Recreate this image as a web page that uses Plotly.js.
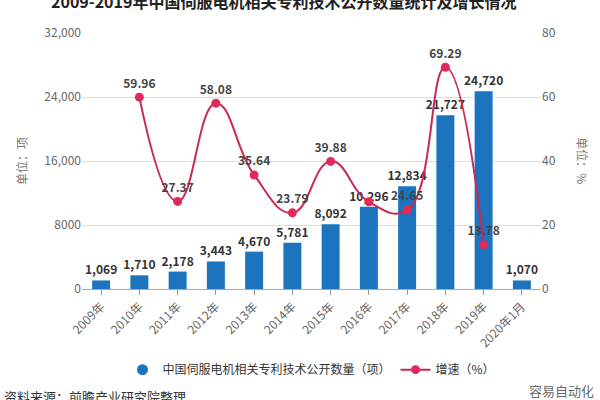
<!DOCTYPE html>
<html>
<head>
<meta charset="utf-8">
<script src="https://cdn.plot.ly/plotly-3.0.1.min.js"></script>
<style>html,body{margin:0;padding:0;background:#fff;}#chart{width:600px;height:400px;}</style>
</head>
<body>
<div id="chart"></div>
<script>
const categories = ["2009年","2010年","2011年","2012年","2013年","2014年","2015年","2016年","2017年","2018年","2019年","2020年1月"];
const patents = [1069, 1710, 2178, 3443, 4670, 5781, 8092, 10296, 12834, 21727, 24720, 1070];
const growthCats = ["2010年","2011年","2012年","2013年","2014年","2015年","2016年","2017年","2018年","2019年"];
const growth = [59.96, 27.37, 58.08, 35.64, 23.79, 39.88, 27.24, 24.65, 69.29, 13.78];
const growthLabels = ["59.96","27.37","58.08","35.64","23.79","39.88","","24.65","69.29","13.78"];
const leftTickVals = [0, 8000, 16000, 24000, 32000];
const leftTickText = ["0", "8000", "16,000", "24,000", "32,000"];
const rightTickVals = [0, 20, 40, 60, 80];

const FONT = "Noto Sans CJK SC, Noto Sans, sans-serif";
const BAR_COLOR = "#1b74bd";

const barTrace = {
  type: "bar",
  name: "中国伺服电机相关专利技术公开数量（项）",
  showlegend: false,
  x: categories,
  y: patents,
  width: 0.47,
  marker: {color: BAR_COLOR},
  text: patents.map(v => v.toLocaleString("en-US")),
  textposition: "outside",
  textangle: 0,
  constraintext: "none",
  textfont: {family: FONT, size: 12, color: "#333", weight: "bold"},
  cliponaxis: false,
  hoverinfo: "skip"
};

const barLegend = {
  type: "scatter",
  mode: "markers",
  name: "中国伺服电机相关专利技术公开数量（项）",
  x: [null], y: [null],
  marker: {color: BAR_COLOR, size: 11, symbol: "circle"},
  hoverinfo: "skip"
};

const lineTrace = {
  type: "scatter",
  mode: "lines+markers+text",
  name: "增速（%）",
  x: growthCats,
  y: growth,
  yaxis: "y2",
  line: {color: "#c92a52", width: 2, shape: "spline", smoothing: 1.3},
  marker: {color: "#e2295b", size: 9},
  text: growthLabels,
  textposition: "top center",
  textfont: {family: FONT, size: 12, color: "#444", weight: "bold"},
  cliponaxis: false,
  hoverinfo: "skip"
};

const layout = {
  width: 600, height: 400,
  margin: {l: 82, r: 59, t: 33, b: 111},
  paper_bgcolor: "#fff", plot_bgcolor: "#fff",
  font: {family: FONT, color: "#666", size: 12},
  showlegend: true,
  xaxis: {
    type: "category",
    categoryorder: "array", categoryarray: categories,
    tickangle: -45,
    tickfont: {family: FONT, size: 12, color: "#666"},
    ticks: "outside", ticklen: 5, tickcolor: "#999",
    showline: true, linecolor: "#aaa", linewidth: 1,
    showgrid: false, zeroline: false
  },
  yaxis: {
    range: [0, 32000],
    tickvals: leftTickVals, ticktext: leftTickText,
    tickfont: {family: FONT, size: 12, color: "#666"},
    showgrid: true, gridcolor: "#ddd", gridwidth: 1,
    zeroline: false, showline: false, ticks: "",
    title: {text: "单位：项", font: {family: FONT, size: 12, color: "#777"}, standoff: 14}
  },
  yaxis2: {
    overlaying: "y", side: "right",
    range: [0, 80],
    tickvals: rightTickVals,
    tickfont: {family: FONT, size: 12, color: "#666"},
    showgrid: false, zeroline: false, showline: false, ticks: ""
  },
  legend: {
    orientation: "h",
    x: 0.5, xanchor: "center",
    y: -0.315, yanchor: "middle",
    font: {family: FONT, size: 12, color: "#333"},
    itemwidth: 30,
    traceorder: "normal"
  },
  annotations: [
    {
      text: "<b>2009-2019年中国伺服电机相关专利技术公开数量统计及增长情况</b>",
      xref: "paper", yref: "paper",
      x: 0.44, y: 1.125, xanchor: "center", yanchor: "middle",
      showarrow: false,
      font: {family: FONT, size: 16, color: "#222"}
    },
    {
      text: "单位：%",
      xref: "paper", yref: "paper",
      x: 1.091, y: 0.5, xanchor: "center", yanchor: "middle",
      textangle: 90,
      showarrow: false,
      font: {family: FONT, size: 12, color: "#777"}
    },
    {
      text: "资料来源：前瞻产业研究院整理",
      xref: "paper", yref: "paper",
      x: -0.175, y: -0.42, xanchor: "left", yanchor: "middle",
      showarrow: false,
      font: {family: FONT, size: 13, color: "#333"}
    },
    {
      text: "容易自动化",
      xref: "paper", yref: "paper",
      x: 1.12, y: -0.395, xanchor: "right", yanchor: "middle",
      showarrow: false,
      font: {family: FONT, size: 13, color: "#666"}
    }
  ]
};

Plotly.newPlot("chart", [barTrace, barLegend, lineTrace], layout, {displayModeBar: false, staticPlot: true});
</script>
</body>
</html>
